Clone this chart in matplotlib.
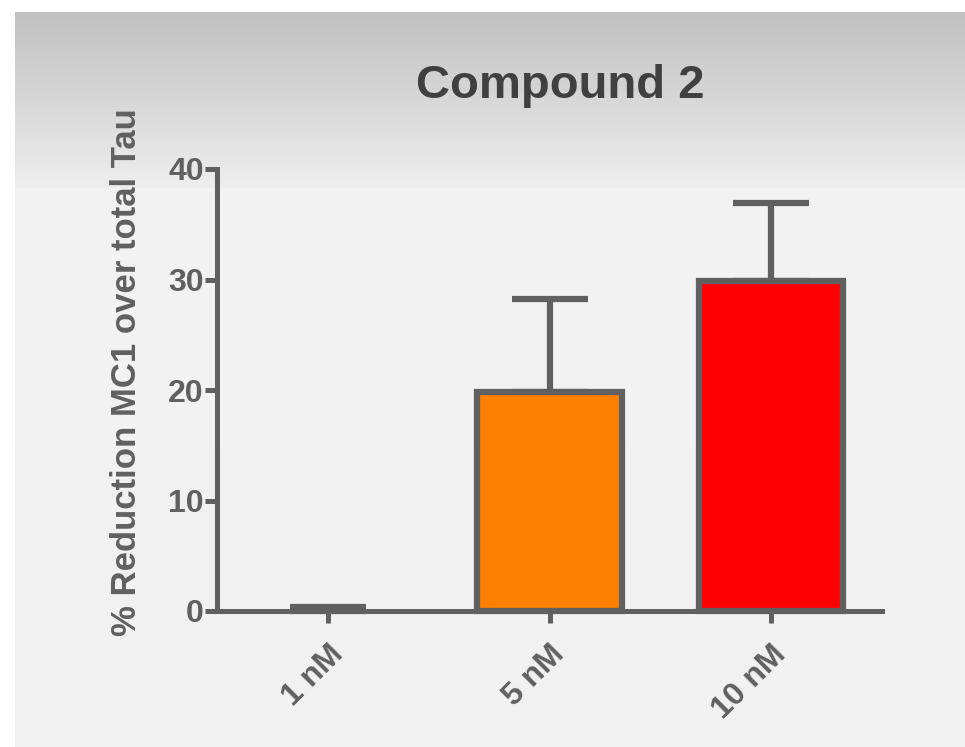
'''bar chart: % reduction MC1 over total Tau for compound 2'''
import matplotlib
matplotlib.use('Agg')
import matplotlib.pyplot as plt
import numpy as np
from matplotlib import rcParams
params = {'font.family': 'Liberation Sans', 'font.weight': 'bold', 'font.size': 23}
rcParams.update(params)

# data
doses = ['1 nM', '5 nM', '10 nM']
means = [0.0, 19.8, 29.9]
errs = [0.4, 8.4, 7.0]
colors = ['#ff8000', '#ff8000', '#ff0000']

grey = '#606060'
W, H = 965, 747
fig = plt.figure(figsize=(W / 100, H / 100), dpi=100)
fig.patch.set_facecolor('white')

# background panel with grey gradient on top
bg = fig.add_axes([15 / W, 0, 1 - 15 / W, 1 - 12 / H], zorder=-10)
rows = np.ones(735)
top = 176
rows[:top] = np.linspace(0.753, 0.93, top)
rows[top:] = np.linspace(0.949, 0.941, 735 - top)
bg.imshow(rows[:, None], cmap='gray', vmin=0, vmax=1,
          aspect='auto', interpolation='nearest')
bg.axis('off')

ax = fig.add_axes([217 / W, 1 - 611 / H, (882 - 217) / W, (611 - 169) / H])
ax.patch.set_alpha(0)

x = np.arange(len(doses))
lws = [4.5 if m > 0 else 0 for m in means]
ax.bar(x, means, width=0.65, color=colors, edgecolor=grey, linewidth=lws,
       zorder=3, clip_on=False)
ax.errorbar(x, means, yerr=[np.zeros(len(errs)), errs], fmt='none',
            ecolor=grey, elinewidth=4.5, capsize=27.5, capthick=4.5,
            zorder=2, clip_on=False)

ax.set_xlim(-0.5, 2.5)
ax.set_ylim(0, 40)
ax.set_yticks([0, 10, 20, 30, 40])

for s in ['top', 'right']:
    ax.spines[s].set_visible(False)
for s in ['left', 'bottom']:
    ax.spines[s].set_color(grey)
    ax.spines[s].set_linewidth(3.6)
    ax.spines[s].set_zorder(4)

ax.tick_params(axis='both', colors=grey, length=8.5, width=3.6, labelsize=23)
ax.tick_params(axis='y', pad=1)
ax.set_xticks(x)
ax.set_xticklabels(doses, rotation=45, ha='right', va='top', rotation_mode='anchor')
ax.tick_params(axis='x', pad=12)

fig.text(127 / W, 1 - 372 / H, '% Reduction MC1 over total Tau', rotation=90,
         ha='center', va='center', fontsize=25, color=grey, fontweight='bold')
fig.text(560 / W, 1 - 98 / H, 'Compound 2', ha='center', va='baseline',
         fontsize=34, color='#404040', fontweight='bold')

plt.savefig('out.png', dpi=100)
